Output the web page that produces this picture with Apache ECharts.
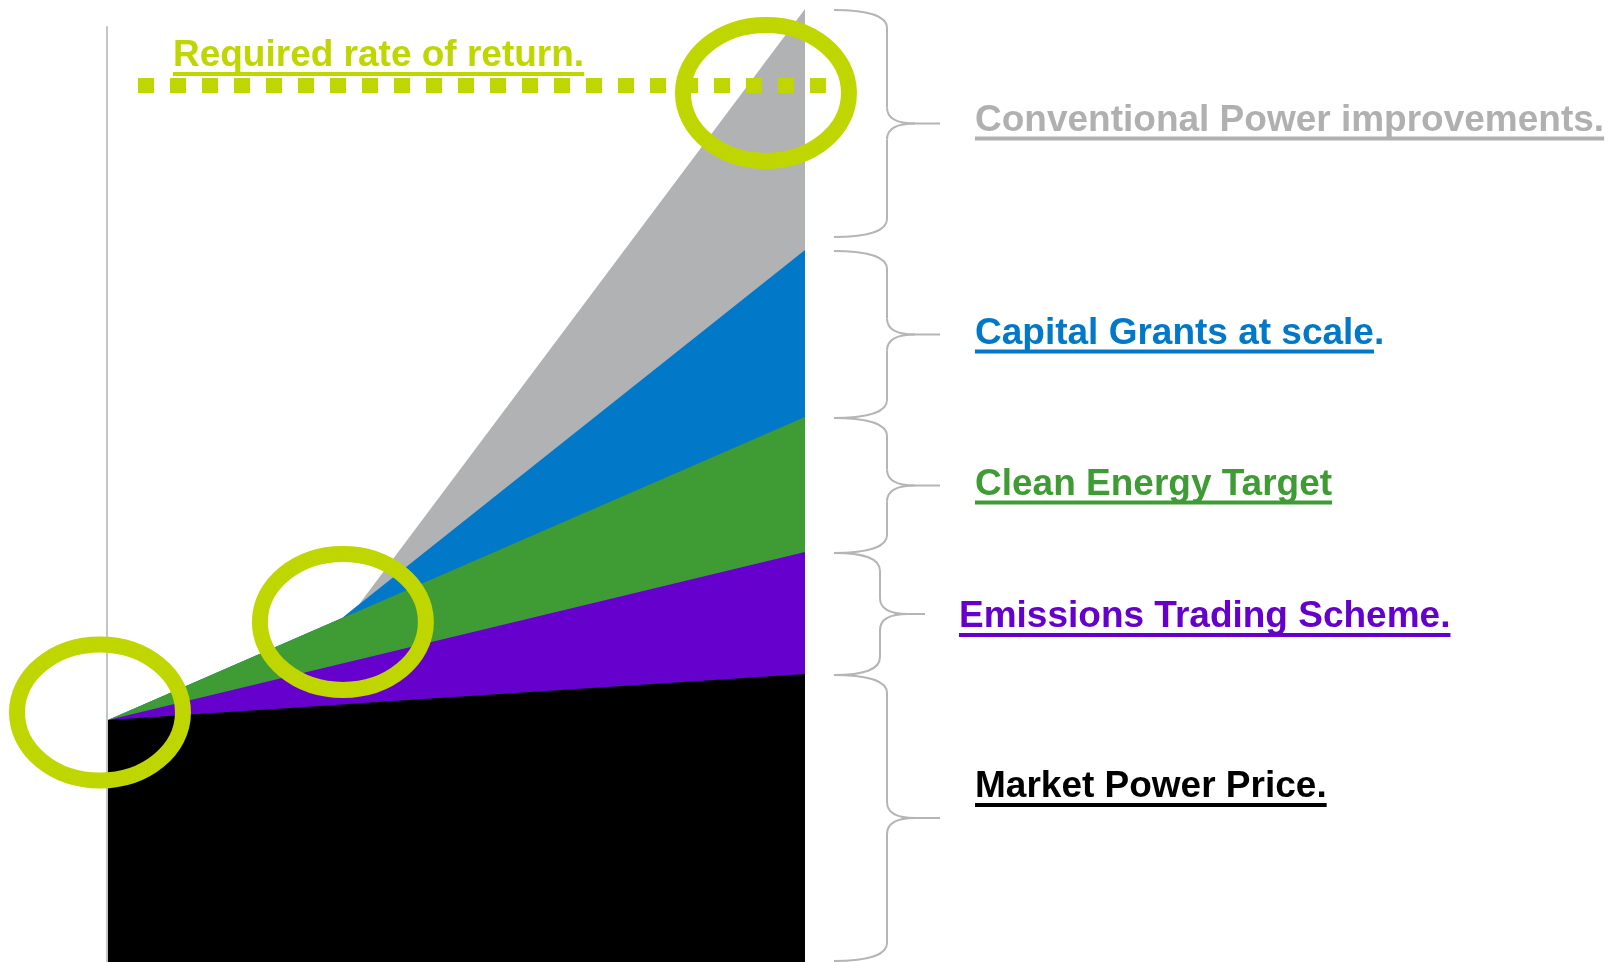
<!DOCTYPE html>
<html><head><meta charset="utf-8">
<script src="https://cdn.jsdelivr.net/npm/echarts@6/dist/echarts.min.js"></script>
<style>html,body{margin:0;padding:0;background:#fff;overflow:hidden}#c{width:1613px;height:962px}</style>
</head><body><div id="c"></div>
<script>
// ---- data ----
const xPoints = [0, 33.6, 36.0, 100];
const marketPowerPrice       = [25.39, 27.01, 27.14, 30.22];
const emissionsTradingScheme = [0, 4.30, 4.60, 12.80];
const cleanEnergyTarget      = [0, 4.79, 5.10, 14.17];
const capitalGrants          = [0, 0, 0.67, 17.52];
const conventionalPower      = [0, 0, 0, 25.29];
const requiredRateOfReturn = 91.97;
const requiredRateSpan = [4.3, 103.0];
const highlightCentres = [[-1.15, 26.18], [33.7, 35.68], [94.4, 91.19]];
const axisTop = 98.2;
const bandNames = ['Market Power Price.', 'Emissions Trading Scheme.', 'Clean Energy Target', 'Capital Grants at scale', 'Conventional Power improvements.'];
const bandSuffix = ['', '', '', '.', ''];
const requiredLabel = 'Required rate of return.';

// ---- styles / layout ----
const areaColors = ['#000000', '#6600cc', '#3f9c35', '#0279c8', '#b1b2b4'];
const textColors = ['#000000', '#6600cc', '#3f9c35', '#0279c8', '#b0b0b0'];
const lime = '#bfd600';
const braceColor = '#b5b5b5';
const FONT = 'bold 37px "Liberation Sans", Arial, Helvetica, sans-serif';
const X_MAX = 104;
const UNIT = 6.97;
const braceLayout = [ // x0 (ends), xs (spine), xt (tip), labelX, label baseline offset from tip
  {x0: 834, xs: 887, xt: 940, lx: 975, dy: -18},
  {x0: 834, xs: 880, xt: 925, lx: 959, dy: 16},
  {x0: 834, xs: 887, xt: 940, lx: 975, dy: 12},
  {x0: 834, xs: 887, xt: 940, lx: 975, dy: 12},
  {x0: 834, xs: 887, xt: 940, lx: 975, dy: 10}
];

const bands = [marketPowerPrice, emissionsTradingScheme, cleanEnergyTarget, capitalGrants, conventionalPower];
const tops = [];
let run = xPoints.map(() => 0);
bands.forEach(b => { run = run.map((v, i) => v + b[i]); tops.push(run.slice()); });

const areaSeries = tops.map((t, i) => ({
  type: 'line', name: bandNames[i], silent: true,
  data: xPoints.map((x, j) => [x, t[j]]),
  symbol: 'none', showSymbol: false,
  lineStyle: {width: 0, opacity: 0},
  areaStyle: {color: areaColors[i], opacity: 1},
  z: 10 - i
}));

const option = {
  animation: false,
  backgroundColor: '#ffffff',
  grid: {left: 108, right: 1613 - 108 - X_MAX * UNIT, top: 9, bottom: 0, containLabel: false, outerBoundsMode: 'none'},
  xAxis: {type: 'value', min: 0, max: X_MAX, show: false},
  yAxis: {type: 'value', min: 0, max: 100, show: false},
  series: areaSeries.concat([{
    type: 'line', name: 'Required rate of return', silent: true, clip: false,
    data: requiredRateSpan.map(x => [x, requiredRateOfReturn]),
    symbol: 'none', showSymbol: false,
    lineStyle: {color: lime, width: 15, type: [16, 16], cap: 'butt'},
    z: 20
  }])
};

const chart = echarts.init(document.getElementById('c'), null, {renderer: 'canvas', width: 1613, height: 962});
chart.setOption(option);

const px = p => chart.convertToPixel({gridIndex: 0}, p);
const ctx = document.createElement('canvas').getContext('2d');
ctx.font = FONT;
const MID = 0.3465 * 37;
const g = [];

// left axis line
const a0 = px([0, axisTop]), a1 = px([0, 0]);
g.push({type: 'line', z: 1, silent: true, shape: {x1: a0[0] - 1, y1: a0[1], x2: a1[0] - 1, y2: a1[1]}, style: {stroke: '#c4c4c4', lineWidth: 2}});

function addLabel(text, suffix, x, baseline, color) {
  g.push({type: 'text', z: 100, silent: true, style: {text: text + suffix, x: x, y: baseline - MID, font: FONT, fill: color, align: 'left', verticalAlign: 'middle'}});
  const w = ctx.measureText(text).width;
  g.push({type: 'line', z: 100, silent: true, shape: {x1: x, y1: baseline + 5, x2: x + w, y2: baseline + 5}, style: {stroke: color, lineWidth: 4}});
}
const bst = {stroke: braceColor, lineWidth: 2, fill: null};
function bez(x1, y1, cpx1, cpy1, cpx2, cpy2, x2, y2) {
  g.push({type: 'bezierCurve', z: 50, silent: true, shape: {x1, y1, cpx1, cpy1, cpx2, cpy2, x2, y2}, style: bst});
}
function seg(x1, y1, x2, y2) {
  g.push({type: 'line', z: 50, silent: true, shape: {x1, y1, x2, y2}, style: bst});
}

// required rate label
const rr = px([requiredRateSpan[0], requiredRateOfReturn]);
addLabel(requiredLabel, '', rr[0] + 35, rr[1] - 16.5, lime);

// braces + labels
tops.forEach((t, i) => {
  const last = xPoints.length - 1;
  const topPx = px([xPoints[last], t[last]])[1];
  const botPx = px([xPoints[last], i === 0 ? 0 : tops[i - 1][last]])[1];
  const y1 = topPx + 1;
  const y2 = i === 4 ? botPx - 13 : Math.min(botPx + 1, 961);
  const L = braceLayout[i];
  const ym = (y1 + y2) / 2, r = 18, tt = 16;
  const {x0, xs, xt} = L;
  bez(x0, y1, x0 + 30, y1, xs, y1 + 5, xs, y1 + r);
  seg(xs, y1 + r, xs, ym - tt);
  bez(xs, ym - tt, xs, ym - 5, xs + 10, ym, xs + 28, ym);
  seg(xs + 28, ym, xt, ym);
  bez(xs, ym + tt, xs, ym + 5, xs + 10, ym, xs + 28, ym);
  seg(xs, ym + tt, xs, y2 - r);
  bez(xs, y2 - r, xs, y2 - 5, x0 + 30, y2, x0, y2);
  addLabel(bandNames[i], bandSuffix[i], L.lx, ym + L.dy, textColors[i]);
});

// highlight rings
highlightCentres.forEach(c => {
  const p = px(c);
  g.push({type: 'ellipse', z: 120, silent: true, shape: {cx: p[0], cy: p[1], rx: 83, ry: 68}, style: {fill: null, stroke: lime, lineWidth: 16}});
});

chart.setOption({graphic: {elements: g}});
</script>
</body></html>
